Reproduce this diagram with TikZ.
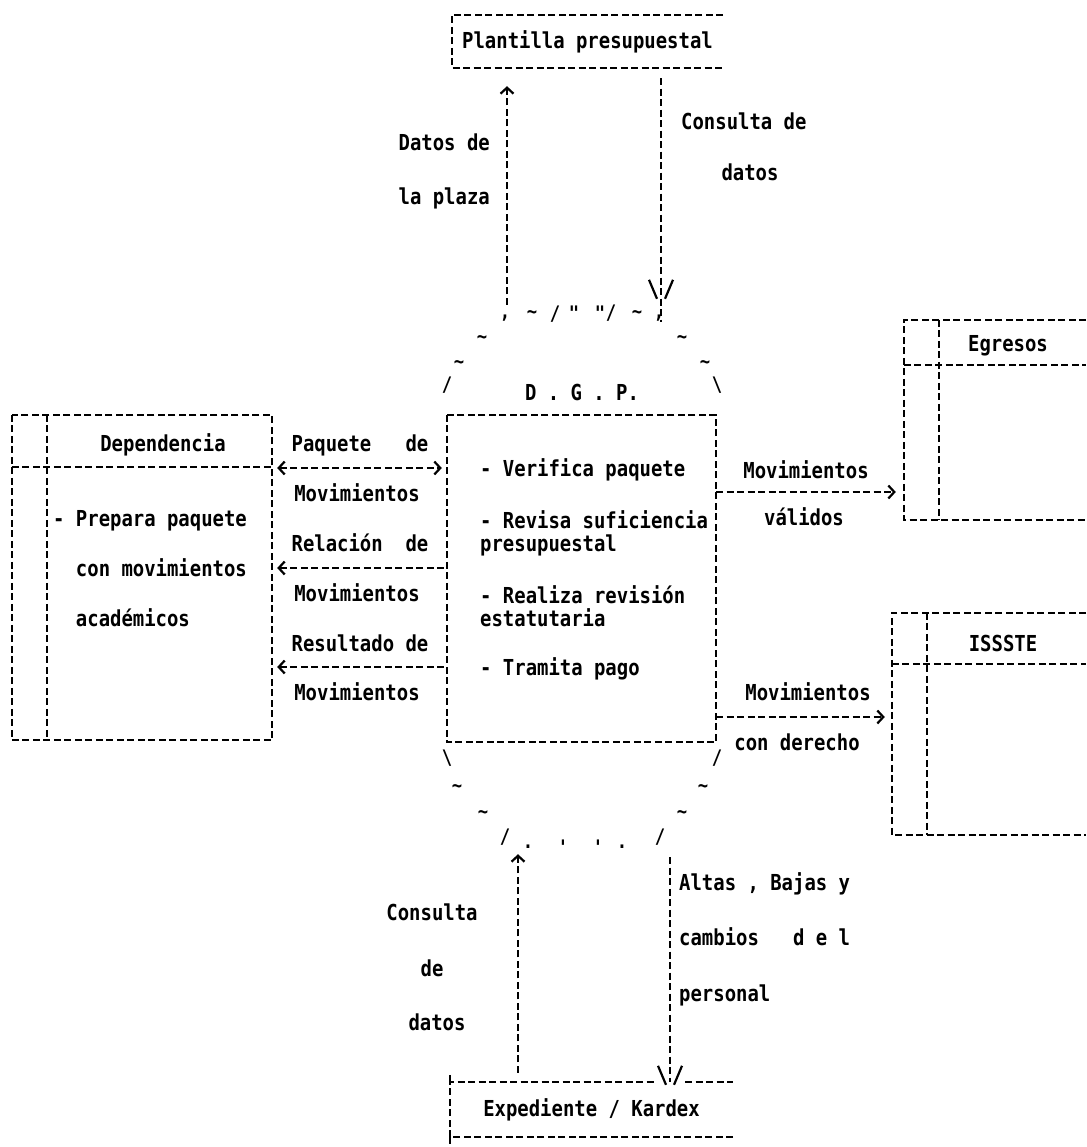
\documentclass[tikz,border=0pt]{standalone}
\usepackage{fontspec}
\usepackage{tikz}
\usetikzlibrary{arrows.meta,positioning,calc}
\newfontfamily\dotfont[FakeStretch=0.86]{DejaVu Sans Mono}

\tikzset{
  dashline/.style={line width=2.2pt, dash pattern=on 7pt off 3.5pt},
  vtip/.pic={\draw[line width=2.2pt] (-12,-10) -- (-4,9) (12,-10) -- (4,9);}
}

\begin{document}
\begin{tikzpicture}[x=1pt,y=-1pt,
    every node/.style={font=\dotfont\bfseries\fontsize{22}{25}\selectfont, inner sep=0pt},
    >={Straight Barb[length=6pt,width=13pt]}]
  \fill[white] (0,0) rectangle (1086,1147);
  \useasboundingbox (0,0) rectangle (1086,1147);

  % columns of the vertical flows
  \coordinate (colA) at (507,0);
  \coordinate (colB) at (661,0);
  \coordinate (colC) at (518,0);
  \coordinate (colD) at (670,0);

  % stores and processes
  \node[minimum width=271pt, minimum height=53pt] (plantilla) at (587.5,41.5) {Plantilla presupuestal};
  \node[minimum width=270pt, minimum height=552pt] (ring) at (582,581) {};
  \node[minimum width=269pt, minimum height=327pt] (dgp) at (581.5,578.5) {};
  \node[minimum width=260pt, minimum height=325pt] (dep) at (142,577.5) {};
  \node[minimum width=182pt, minimum height=200pt] (egresos) at (995,420) {};
  \node[minimum width=194pt, minimum height=222pt] (issste) at (989,724) {};
  \node[minimum width=283pt, minimum height=55pt] (expediente) at (591.5,1109.5) {Expediente / Kardex};

  \draw[dashline] (plantilla.north east) -- (plantilla.north west) -- (plantilla.south west) -- (plantilla.south east);
  \draw[dashline] (dgp.north west) rectangle (dgp.south east);
  \draw[dashline] (dep.north west) rectangle (dep.south east);
  \draw[dashline] ([xshift=35pt]dep.north west) -- ([xshift=35pt]dep.south west);
  \draw[dashline] ([yshift=-52pt]dep.north west) -- ([yshift=-52pt]dep.north east);
  \draw[dashline] (egresos.north east) -- (egresos.north west) -- (egresos.south west) -- (egresos.south east);
  \draw[dashline] ([xshift=35pt]egresos.north west) -- ([xshift=35pt]egresos.south west);
  \draw[dashline] ([yshift=-45pt]egresos.north west) -- ([yshift=-45pt]egresos.north east);
  \draw[dashline] (issste.north east) -- (issste.north west) -- (issste.south west) -- (issste.south east);
  \draw[dashline] ([xshift=35pt]issste.north west) -- ([xshift=35pt]issste.south west);
  \draw[dashline] ([yshift=-51pt]issste.north west) -- ([yshift=-51pt]issste.north east);
  \draw[dashline] (expediente.south east) -- (expediente.south west) -- (expediente.north west) -- ([xshift=-15pt]expediente.north -| colD);
  \draw[dashline] ([xshift=15pt]expediente.north -| colD) -- (expediente.north east);
  \draw[dashline] ([yshift=7pt]expediente.north west) -- (expediente.north west);
  \draw[dashline] (expediente.south west) -- ++(0,10);

  % outline of D.G.P.
  \foreach \gx/\gy/\gl in {505/318/{,}, 532/315/\textasciitilde, 555/314/{/}, 574/313/", 600/313/", 611/313/{/},
      637/315/\textasciitilde, 659/318/{,}, 482/340/\textasciitilde, 682/340/\textasciitilde,
      459/365/\textasciitilde, 705/365/\textasciitilde, 447/385/{/}, 717/385/\textbackslash,
      447/758/\textbackslash, 717/758/{/}, 457/789/\textasciitilde, 703/789/\textasciitilde,
      483/815/\textasciitilde, 682/815/\textasciitilde, 505/837/{/}, 660/837/{/},
      528/847/., 563/847/', 598/847/', 622/847/.}
    \node[font=\dotfont\bfseries\fontsize{20}{20}\selectfont] (ring-\gx-\gy) at (\gx,\gy) {\gl};
  \node[anchor=base] (dgptitle) at (582,400) {D . G . P.};

  % texts
  \node[anchor=base] (deptitle) at (163,451) {Dependencia};
  \node[anchor=base west, align=left] (depact) at (53,626) {- Prepara paquete\\[25pt]\hphantom{- }con movimientos\\[25pt]\hphantom{- }académicos};
  \node[anchor=base west] (act1) at (480,476) {- Verifica paquete};
  \node[anchor=base west, align=left] (act2) at (480,551) {- Revisa suficiencia\\[-2pt]presupuestal};
  \node[anchor=base west, align=left] (act3) at (480,626) {- Realiza revisión\\[-2pt]estatutaria};
  \node[anchor=base west] (act4) at (480,675) {- Tramita pago};
  \node[anchor=base] (egrtitle) at (1008,351) {Egresos};
  \node[anchor=base] (isstitle) at (1003,651) {ISSSTE};

  % flows
  \draw[dashline,<->,shorten <=5pt,shorten >=5pt] (dep.east |- 0,468) -- (dgp.west |- 0,468);
  \node[anchor=base] (paq1) at (360,451) {Paquete~~~de};
  \node[anchor=base] (paq2) at (357,501) {Movimientos};
  \draw[dashline,<-,shorten <=5pt] (dep.east |- 0,568) -- (dgp.west |- 0,568);
  \node[anchor=base] (rel1) at (360,551) {Relación~~de};
  \node[anchor=base] (rel2) at (357,601) {Movimientos};
  \draw[dashline,<-,shorten <=5pt] (dep.east |- 0,667) -- (dgp.west |- 0,667);
  \node[anchor=base] (res1) at (360,651) {Resultado de};
  \node[anchor=base] (res2) at (357,700) {Movimientos};

  \draw[dashline,->,shorten >=8pt] (dgp.east |- 0,492) -- (egresos.west |- 0,492);
  \node[anchor=base] (val1) at (806,478) {Movimientos};
  \node[anchor=base] (val2) at (804,525) {válidos};
  \draw[dashline,->,shorten >=7pt] (dgp.east |- 0,717) -- (issste.west |- 0,717);
  \node[anchor=base] (der1) at (808,700) {Movimientos};
  \node[anchor=base] (der2) at (797,750) {con derecho};

  \draw[dashline,->,shorten >=18pt] (ring.north -| colA) -- (plantilla.south -| colA);
  \node[anchor=base east] (plaza1) at (490,151) {Datos de};
  \node[anchor=base east] (plaza2) at (490,205) {la plaza};
  \draw[dashline] ([yshift=-10pt]plantilla.south -| colB) -- ([yshift=-17pt]ring.north -| colB);
  \pic at ([yshift=15pt]ring.north -| colB) {vtip};
  \node[anchor=base west] (cons1) at (681,130) {Consulta de};
  \node[anchor=base] (cons2) at (750,181) {datos};

  \draw[dashline,->,shorten <=9pt,shorten >=-3pt] (expediente.north -| colC) -- (ring.south -| colC);
  \node[anchor=base] (cdat1) at (432,920) {Consulta};
  \node[anchor=base] (cdat2) at (432,976) {de};
  \node[anchor=base] (cdat3) at (437,1030) {datos};
  \draw[dashline] (ring.south -| colD) -- (expediente.north -| colD);
  \pic at ([yshift=6pt]expediente.north -| colD) {vtip};
  \node[anchor=base west] (alta1) at (679,890) {Altas , Bajas y};
  \node[anchor=base west] (alta2) at (679,945) {cambios~~~d e l};
  \node[anchor=base west] (alta3) at (679,1001) {personal};
\end{tikzpicture}
\end{document}
